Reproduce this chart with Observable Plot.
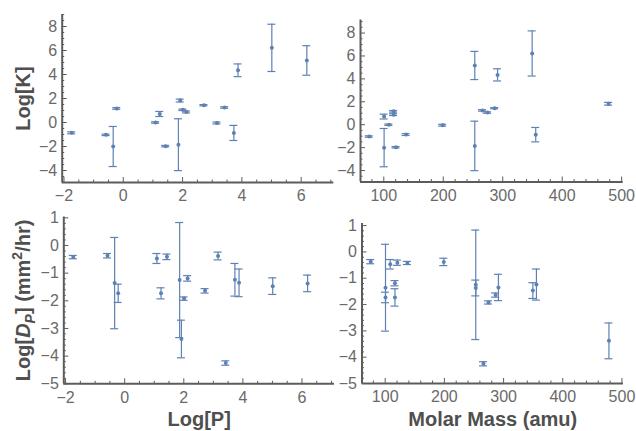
<!DOCTYPE html>
<html><head><meta charset="utf-8">
<script src="https://cdn.jsdelivr.net/npm/d3@7"></script>
<script src="https://cdn.jsdelivr.net/npm/@observablehq/plot@0.6"></script>
<style>
html,body{margin:0;padding:0;background:#fff;}
#chart{position:relative;width:636px;height:431px;overflow:hidden;background:#fff;}
#chart svg{position:absolute;left:0;top:0;}
</style></head><body><div id="chart"></div>
<script>
// ---- data (one entry per compound) ----
const logP      = [-1.74, -0.58, -0.34, -0.22, 1.09, 1.23, 1.43, 1.86, 1.92, 2.01, 2.13, 2.72, 3.16, 3.42, 3.73, 3.87, 5.01, 6.19];
const molarMass = [137.5, 75.5, 100.5, 116.5, 108.5, 100.5, 120.5, 253, 478, 274.5, 116.5, 286.5, 199, 266, 355.5, 291.3, 349.5, 253];
const logK      = [-0.86, -1.03, -2.0, 1.17, 0.0, 0.71, -1.97, -1.85, 1.83, 1.06, 0.88, 1.44, -0.04, 1.25, -0.87, 4.35, 6.22, 5.17];
const logKErr   = [0.08, 0.06, 1.67, 0.07, 0.06, 0.21, 0.06, 2.16, 0.12, 0.06, 0.08, 0.05, 0.08, 0.06, 0.63, 0.53, 1.97, 1.23];
const logDp     = [-0.42, -0.37, -1.36, -1.73, -0.47, -1.73, -0.41, -1.25, -3.38, -1.92, -1.19, -1.64, -0.38, -4.25, -1.24, -1.35, -1.47, -1.37];
const logDpErr  = [0.06, 0.08, 1.65, 0.33, 0.18, 0.2, 0.1, 2.08, 0.68, 0.06, 0.1, 0.08, 0.14, 0.08, 0.59, 0.5, 0.3, 0.3];

// ---- tick labels ----
const logPTicks  = [-2, 0, 2, 4, 6];
const massTicks  = [100, 200, 300, 400, 500];
const logKTicks  = [-4, -2, 0, 2, 4, 6, 8];
const logDpTicks = [-5, -4, -3, -2, -1, 0, 1];

const rows = logP.map((p, i) => ({
  logP: p, mass: molarMass[i],
  k: logK[i], kLo: logK[i] - logKErr[i], kHi: logK[i] + logKErr[i],
  d: logDp[i], dLo: logDp[i] - logDpErr[i], dHi: logDp[i] + logDpErr[i]
}));

const W = 636, H = 431;
const blue = "#5e81b5", axisColor = "#5c5c5c", tickText = "#6a6a6a", titleColor = "#4f4f4f";
const font = "'Liberation Sans', Arial, sans-serif";
const fmt = d => d < 0 ? "\u2212" + Math.abs(d) : String(d);
const minor = (a, b, s, major) => d3.range(Math.round((b - a) / s) + 1).map(i => +(a + i * s).toFixed(6)).filter(v => !major.includes(v));

function panel(cfg) {
  const {box, x, yc, lo, hi, xDomain, yDomain, xTicks, xMinor, yTicks, yMinor, xLabel, yLabel} = cfg;
  const fw = box.right - box.left, fh = box.bottom - box.top;
  const marks = [
    Plot.ruleX(xMinor, {stroke: axisColor, strokeWidth: 1, insetTop: fh - 2.5}),
    Plot.ruleX(xTicks, {stroke: axisColor, strokeWidth: 1, insetTop: fh - 5}),
    Plot.ruleY(yMinor, {stroke: axisColor, strokeWidth: 1, insetRight: fw - 2.5}),
    Plot.ruleY(yTicks, {stroke: axisColor, strokeWidth: 1, insetRight: fw - 5}),
    Plot.ruleX([xDomain[0]], {stroke: axisColor, strokeWidth: 2}),
    Plot.ruleY([yDomain[0]], {stroke: axisColor, strokeWidth: 2}),
    Plot.ruleX(rows, {x, y1: lo, y2: hi, stroke: blue, strokeWidth: 1.2}),
    Plot.ruleY(rows, {y: lo, x1: x, x2: x, insetLeft: -4, insetRight: -4, stroke: blue, strokeWidth: 1.2}),
    Plot.ruleY(rows, {y: hi, x1: x, x2: x, insetLeft: -4, insetRight: -4, stroke: blue, strokeWidth: 1.2}),
    Plot.dot(rows, {x, y: yc, r: 2, fill: blue, stroke: "none"})
  ];
  if (xLabel) marks.push(Plot.text([xLabel], {text: d => d, frameAnchor: "bottom", dy: 419 - box.bottom,
    textAnchor: "middle", lineAnchor: "middle", fontSize: 20, fontWeight: "bold", fill: titleColor}));
  if (yLabel) marks.push(Plot.text([yLabel], {text: d => d, frameAnchor: "left", dx: 23 - box.left, rotate: -90,
    textAnchor: "middle", lineAnchor: "middle", fontSize: 20, fontWeight: "bold", fill: titleColor}));
  const svg = Plot.plot({
    width: W, height: H,
    marginLeft: box.left, marginRight: W - box.right, marginTop: box.top, marginBottom: H - box.bottom,
    style: {background: "transparent", fontFamily: font, fontSize: "16px", color: tickText, overflow: "visible"},
    x: {domain: xDomain, ticks: xTicks, tickSize: 0, tickPadding: 7.5, tickFormat: fmt, label: null},
    y: {domain: yDomain, ticks: yTicks, tickSize: 0, tickPadding: 5, tickFormat: fmt, label: null},
    marks
  });
  return svg;
}

const xLogP = [-2.06, 7.1], xMass = [60.8, 502.6];
const panels = [
  panel({box: {left: 61.7, right: 333.3, top: 14, bottom: 182}, x: "logP", yc: "k", lo: "kLo", hi: "kHi",
    xDomain: xLogP, yDomain: [-5, 9], xTicks: logPTicks, xMinor: minor(-2, 7, 0.5, logPTicks),
    yTicks: logKTicks, yMinor: minor(-5, 9, 0.5, logKTicks), yLabel: "Log[K]"}),
  panel({box: {left: 360, right: 622.7, top: 19.5, bottom: 181.5}, x: "mass", yc: "k", lo: "kLo", hi: "kHi",
    xDomain: xMass, yDomain: [-5, 9.14], xTicks: massTicks, xMinor: minor(80, 500, 20, massTicks),
    yTicks: logKTicks, yMinor: minor(-5, 9, 0.5, logKTicks)}),
  panel({box: {left: 63.3, right: 334, top: 216.5, bottom: 383.3}, x: "logP", yc: "d", lo: "dLo", hi: "dHi",
    xDomain: xLogP, yDomain: [-5, 1.03], xTicks: logPTicks, xMinor: minor(-2, 7, 0.5, logPTicks),
    yTicks: logDpTicks, yMinor: minor(-5, 1, 0.2, logDpTicks), xLabel: "Log[P]", yLabel: "LOGDP_PLACEHOLDER"}),
  panel({box: {left: 361.5, right: 623, top: 223, bottom: 383}, x: "mass", yc: "d", lo: "dLo", hi: "dHi",
    xDomain: xMass, yDomain: [-5, 1.08], xTicks: massTicks, xMinor: minor(80, 500, 20, massTicks),
    yTicks: logDpTicks, yMinor: minor(-5, 1, 0.2, logDpTicks), xLabel: "Molar Mass (amu)"})
];
const chart = document.getElementById("chart");
panels.forEach(p => chart.appendChild(p));

// rich text for the D_P label
const NS = "http://www.w3.org/2000/svg";
chart.querySelectorAll("text").forEach(t => {
  if (t.textContent === "LOGDP_PLACEHOLDER") {
    t.textContent = "";
    const parts = [
      ["Log[", {}],
      ["D", {"font-style": "italic"}],
      ["P", {"font-style": "italic", "font-size": 14, dy: 5}],
      ["] (mm", {dy: -5}],
      ["2", {"font-size": 14, dy: -8}],
      ["/hr)", {dy: 8}]
    ];
    parts.forEach(([s, attrs]) => {
      const ts = document.createElementNS(NS, "tspan");
      for (const k in attrs) ts.setAttribute(k, attrs[k]);
      ts.textContent = s;
      t.appendChild(ts);
    });
  }
});
</script>
</body></html>
